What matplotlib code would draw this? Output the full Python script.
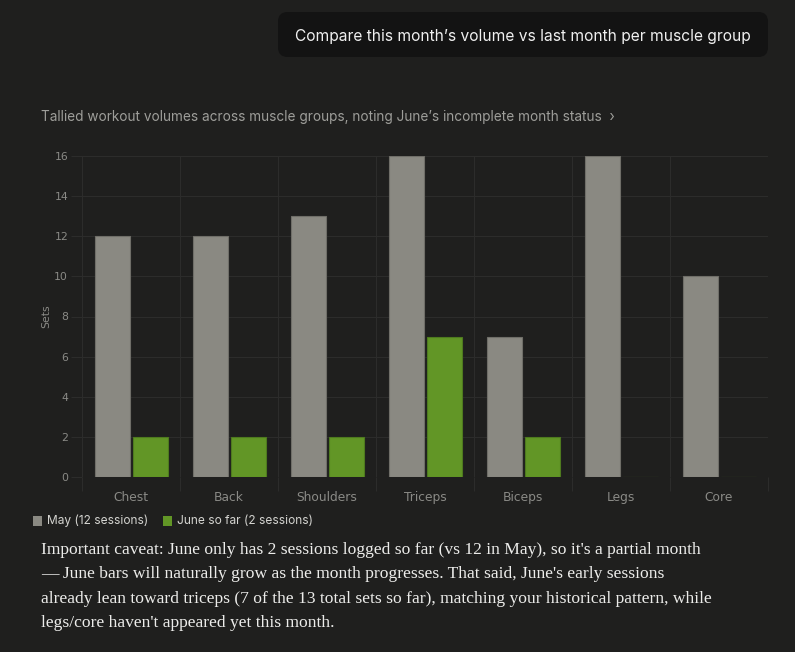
import numpy as np
import matplotlib.pyplot as plt
from matplotlib.patches import FancyBboxPatch, Rectangle

# data
groups = ['Chest', 'Back', 'Shoulders', 'Triceps', 'Biceps', 'Legs', 'Core']
may_sets = [12, 12, 13, 16, 7, 16, 10]
june_sets = [2, 2, 2, 7, 2, 0, 0]
series_labels = ['May (12 sessions)', 'June so far (2 sessions)']
y_ticks = [0, 2, 4, 6, 8, 10, 12, 14, 16]

prompt = "Compare this month\u2019s volume vs last month per muscle group"
subtitle = "Tallied workout volumes across muscle groups, noting June\u2019s incomplete month status"
body_lines = [
    "Important caveat: June only has 2 sessions logged so far (vs 12 in May), so it's a partial month",
    "\u2014 June bars will naturally grow as the month progresses. That said, June's early sessions",
    "already lean toward triceps (7 of the 13 total sets so far), matching your historical pattern, while",
    "legs/core haven't appeared yet this month.",
]

BG = '#1f1f1e'
GRID = '#2c2c2b'
GRAY = '#8a8982'
GREEN = '#629626'
W, H = 795, 652

fig = plt.figure(figsize=(W / 100, H / 100), dpi=100, facecolor=BG)

# chat bubble
bubble = FancyBboxPatch((278 / W, 1 - 57 / H), 490 / W, 45 / H,
                        boxstyle='round,pad=0,rounding_size=0.012',
                        transform=fig.transFigure, facecolor='#131313',
                        edgecolor='none', mutation_aspect=W / H)
fig.patches.append(bubble)
fig.text(295 / W, 1 - 36 / H, prompt, color='#f0f0f0', fontsize=11.2,
         family='Inter', va='center', ha='left')

# subtitle
fig.text(41 / W, 1 - 117 / H, subtitle + '  ›', color='#9e9e9a', fontsize=9.8,
         family='Inter', va='center', ha='left')

# chart
ax = fig.add_axes([82 / W, 1 - 477 / H, 686 / W, (477 - 156) / H])
ax.set_facecolor(BG)
x = np.arange(len(groups))
ax.bar(x - 0.19, may_sets, width=0.36, color=GRAY, edgecolor='#6f6e68', linewidth=0.8, zorder=3)
ax.bar(x + 0.2, june_sets, width=0.36, color=GREEN, edgecolor='#4e7a1e', linewidth=0.8, zorder=3)

ax.set_xlim(-0.5, len(groups) - 0.5)
ax.set_ylim(0, 16)
ax.set_yticks(y_ticks)
ax.set_xticks(x)
ax.set_xticklabels(groups)
ax.set_xticks(np.arange(len(groups) + 1) - 0.5, minor=True)
for s in ax.spines.values():
    s.set_visible(False)
ax.grid(axis='y', color=GRID, linewidth=0.8, zorder=0)
ax.grid(axis='x', which='minor', color=GRID, linewidth=0.8, zorder=0)
ax.tick_params(axis='x', which='major', length=0, pad=10, labelcolor='#8a8a86', labelsize=8.8)
ax.tick_params(axis='x', which='minor', length=10, color=GRID, width=0.8)
ax.tick_params(axis='y', length=8, color=GRID, width=0.8, pad=2, labelcolor='#8a8a86', labelsize=7.8)
for lab in ax.get_xticklabels() + ax.get_yticklabels():
    lab.set_family('DejaVu Sans')
ax.set_ylabel('Sets', color='#8a8a86', fontsize=7.8, labelpad=2)

# legend
leg_x = [33, 163]
for lx, lab, col in zip(leg_x, series_labels, [GRAY, GREEN]):
    fig.patches.append(Rectangle((lx / W, 1 - 526 / H), 9 / W, 10 / H,
                                 transform=fig.transFigure, facecolor=col, edgecolor='none'))
    fig.text((lx + 14) / W, 1 - 521 / H, lab, color='#d4d4d0', fontsize=8.6,
             family='Inter', va='center', ha='left')

# body text
for i, line in enumerate(body_lines):
    fig.text(41 / W, 1 - (550 + i * 24.3) / H, line, color='#ececea', fontsize=12.6,
             family='Liberation Serif', va='center', ha='left')

fig.savefig('out.png', dpi=100, facecolor=BG)
